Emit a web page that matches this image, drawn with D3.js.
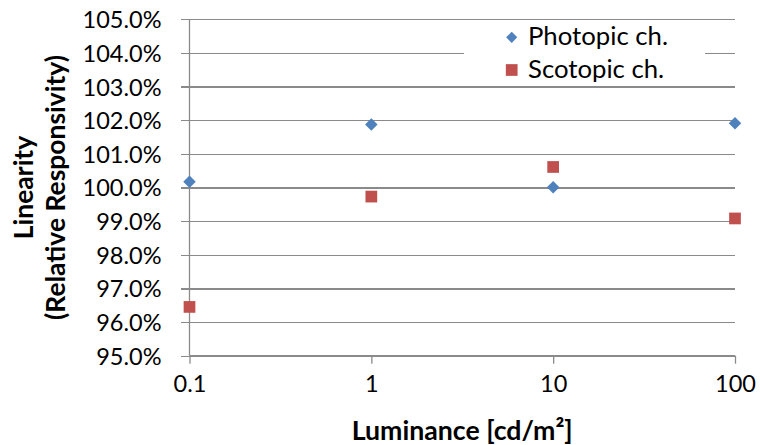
<!DOCTYPE html>
<html>
<head>
<meta charset="utf-8">
<script src="https://cdn.jsdelivr.net/npm/d3@7/dist/d3.min.js"></script>
<style>
  html, body { margin: 0; padding: 0; background: #fff; }
  svg { display: block; }
  text { font-family: Lato, "Open Sans", sans-serif; fill: #000; }
</style>
</head>
<body>
<svg id="chart" width="760" height="445"></svg>
<script>
// Luminance levels (cd/m²) and relative responsivity of each channel
const luminance = [0.1, 1, 10, 100];
const photopic = [1.0017, 1.0187, 1.0001, 1.0191];
const scotopic = [0.9645, 0.9973, 1.0061, 0.9908];
const xTicks = [0.1, 1, 10, 100];
const yTicks = [0.95, 0.96, 0.97, 0.98, 0.99, 1.00, 1.01, 1.02, 1.03, 1.04, 1.05];
const seriesNames = ["Photopic ch.", "Scotopic ch."];

const colors = { photopic: "#4F81BD", scotopic: "#C0504D", grid: "#8A8A8A" };

const svg = d3.select("#chart");
const plot = { left: 189.5, right: 735, top: 19.3, bottom: 355.7 };

const x = d3.scaleLog().domain([0.1, 100]).range([plot.left, plot.right]);
const y = d3.scaleLinear().domain([0.95, 1.05]).range([plot.bottom, plot.top]);

// scale a text element's font so its width equals the given target
function fitWidth(sel, target) {
  sel.each(function () {
    const base = parseFloat(this.getAttribute("font-size"));
    const len = this.getComputedTextLength();
    if (len > 0) this.setAttribute("font-size", (base * target / len).toFixed(2));
  });
  return sel;
}

// horizontal gridlines with tick stubs on the left
const yAxis = d3.axisLeft(y).tickValues(yTicks).tickSize(-(plot.right - plot.left)).tickSizeOuter(0)
  .tickFormat(d3.format(".1%")).tickPadding(0);
const gy = svg.append("g").attr("transform", `translate(${plot.left},0)`).call(yAxis);
gy.select(".domain").remove();
gy.selectAll(".tick line").attr("x1", -8.5).attr("stroke", colors.grid).attr("stroke-width", 1.3)
  .attr("shape-rendering", "crispEdges");
gy.selectAll(".tick text").attr("font-size", 22).attr("x", -28).attr("dy", "0.36em")
  .attr("fill", "#000").attr("font-family", "Lato");
fitWidth(gy.selectAll(".tick text").filter(d => d === 1.05), 79);
const ySize = gy.selectAll(".tick text").filter(d => d === 1.05).attr("font-size");
gy.selectAll(".tick text").attr("font-size", ySize);

// bottom axis with decade ticks
const xAxis = d3.axisBottom(x).tickValues(xTicks).tickSize(8).tickSizeOuter(0)
  .tickFormat(d => String(d)).tickPadding(14);
const gx = svg.append("g").attr("transform", `translate(0,${plot.bottom})`).call(xAxis);
gx.select(".domain").attr("stroke", colors.grid).attr("stroke-width", 1.3)
  .attr("d", `M${plot.left},0H${plot.right}`);
gx.selectAll(".tick line").attr("stroke", colors.grid).attr("stroke-width", 1.3);
gx.selectAll(".tick text").attr("font-size", ySize).attr("fill", "#000").attr("font-family", "Lato")
  .attr("y", 36).attr("dy", 0);

// vertical axis line
svg.append("line").attr("x1", plot.left).attr("x2", plot.left)
  .attr("y1", plot.top).attr("y2", plot.bottom)
  .attr("stroke", colors.grid).attr("stroke-width", 1.3);

// legend box
const legend = svg.append("g");
legend.append("rect").attr("x", 464).attr("y", 26).attr("width", 241).attr("height", 56).attr("fill", "#fff");

// markers
const diamond = d3.symbol().type(d3.symbolDiamond2).size(100);
const square = d3.symbol().type(d3.symbolSquare2).size(175);

svg.append("g").selectAll("path").data(luminance.map((l, i) => [l, photopic[i]])).join("path")
  .attr("d", diamond).attr("fill", colors.photopic)
  .attr("transform", d => `translate(${x(d[0])},${y(d[1])})`);
svg.append("g").selectAll("path").data(luminance.map((l, i) => [l, scotopic[i]])).join("path")
  .attr("d", square).attr("fill", colors.scotopic)
  .attr("transform", d => `translate(${x(d[0])},${y(d[1])})`);

// legend entries
const legY = [37.3, 70];
legend.append("path").attr("d", d3.symbol().type(d3.symbolDiamond2).size(80))
  .attr("fill", colors.photopic).attr("transform", `translate(511.7,${legY[0]})`);
legend.append("path").attr("d", d3.symbol().type(d3.symbolSquare2).size(175))
  .attr("fill", colors.scotopic).attr("transform", `translate(511.7,${legY[1]})`);
const legText = legend.selectAll("text.leg").data(seriesNames).join("text").attr("class", "leg")
  .attr("x", 528).attr("y", (d, i) => legY[i] + 8).attr("font-size", 22).text(d => d);
fitWidth(legText.filter((d, i) => i === 0), 140);
legText.attr("font-size", legText.filter((d, i) => i === 0).attr("font-size"));

// axis titles
const xt = svg.append("text").attr("x", (plot.left + plot.right) / 2).attr("y", 440)
  .attr("text-anchor", "middle").attr("font-weight", "bold").attr("font-size", 22)
  .text("Luminance [cd/m²]");
fitWidth(xt, 221);

const cy = (plot.top + plot.bottom) / 2;
const yt1 = svg.append("text").attr("transform", `translate(33,${cy}) rotate(-90)`)
  .attr("text-anchor", "middle").attr("font-weight", "bold").attr("font-size", 22).text("Linearity");
const yt2 = svg.append("text").attr("transform", `translate(65,${cy}) rotate(-90)`)
  .attr("text-anchor", "middle").attr("font-weight", "bold").attr("font-size", 22)
  .text("(Relative Responsivity)");
fitWidth(yt2, 265);
yt1.attr("font-size", yt2.attr("font-size"));
</script>
</body>
</html>
